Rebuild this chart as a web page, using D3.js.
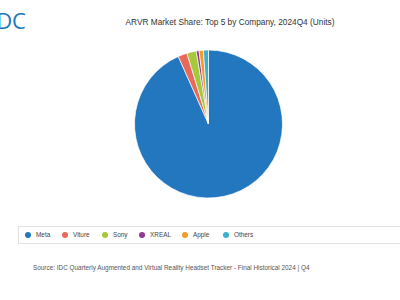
<!DOCTYPE html>
<html>
<head>
<meta charset="utf-8">
<script src="https://cdn.jsdelivr.net/npm/d3@7"></script>
<style>
  body { margin: 0; background: #fff; }
  svg { display: block; font-family: "Liberation Sans", Arial, sans-serif; }
</style>
</head>
<body>
<svg id="chart" width="400" height="300"></svg>
<script>
// values (percent of units)
const companies = ["Meta", "Viture", "Sony", "XREAL", "Apple", "Others"];
const shares = [93.3, 2.0, 2.05, 0.6, 0.95, 1.1];
const colors = ["#2277bf", "#e9695b", "#a6c83b", "#8d3a95", "#f29b29", "#3bb0cf"];

const titleText = "ARVR Market Share: Top 5 by Company, 2024Q4 (Units)";
const sourceText = "Source: IDC Quarterly Augmented and Virtual Reality Headset Tracker - Final Historical 2024 | Q4";

const svg = d3.select("#chart");

const color = d3.scaleOrdinal().domain(companies).range(colors);

// logo, clipped at the left edge like the screenshot
svg.append("text")
  .attr("x", -10)
  .attr("y", 29)
  .attr("fill", "#1f77bd")
  .attr("font-size", 22)
  .attr("font-family", "'Open Sans', sans-serif")
  .text("IDC");

svg.append("text")
  .attr("x", 230)
  .attr("y", 25)
  .attr("text-anchor", "middle")
  .attr("fill", "#333")
  .attr("font-size", 8.3)
  .text(titleText);

// pie
const data = companies.map((c, i) => ({ name: c, value: shares[i] }));
const pie = d3.pie().sort(null).value(d => d.value);
const arc = d3.arc().innerRadius(0).outerRadius(74);

const g = svg.append("g").attr("transform", "translate(208.5,124)");
g.selectAll("path")
  .data(pie(data))
  .join("path")
  .attr("d", arc)
  .attr("fill", d => color(d.data.name))
  .attr("stroke", "#fff")
  .attr("stroke-width", 0.7);

// legend
svg.append("rect")
  .attr("x", 18.5)
  .attr("y", 226.5)
  .attr("width", 390)
  .attr("height", 17)
  .attr("fill", "#fff")
  .attr("stroke", "#e3e3e3");

const legendX = d3.scaleOrdinal().domain(companies).range([28, 65, 105, 142, 185, 226]);

const item = svg.selectAll(".legend-item")
  .data(companies)
  .join("g")
  .attr("class", "legend-item")
  .attr("transform", d => `translate(${legendX(d)},235)`);

item.append("circle")
  .attr("r", 3)
  .attr("fill", d => color(d));

item.append("text")
  .attr("x", 8)
  .attr("y", 2.2)
  .attr("fill", "#444")
  .attr("font-size", 6.4)
  .text(d => d);

svg.append("text")
  .attr("x", 33)
  .attr("y", 270)
  .attr("fill", "#555")
  .attr("font-size", 6.4)
  .text(sourceText);
</script>
</body>
</html>
